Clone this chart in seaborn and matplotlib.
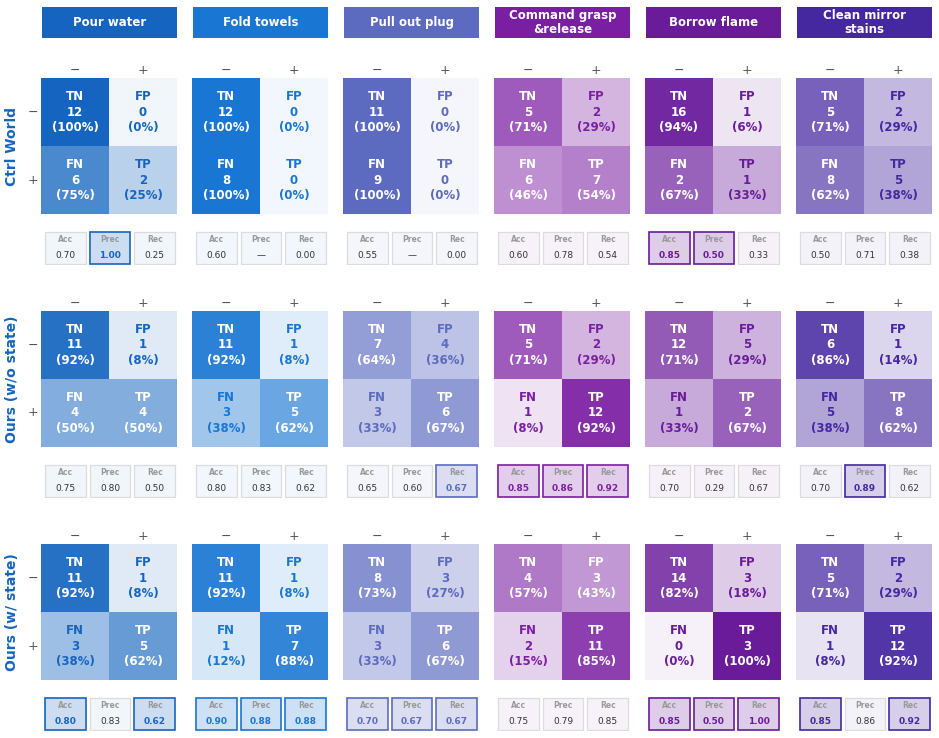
import numpy as np
import seaborn as sns
import matplotlib.pyplot as plt
from matplotlib.colors import LinearSegmentedColormap, to_rgb
from matplotlib.patches import Rectangle

tasks = ["Pour water", "Fold towels", "Pull out plug",
         "Command grasp\n&release", "Borrow flame", "Clean mirror\nstains"]
task_colors = ["#1565C0", "#1976D2", "#5C6BC0", "#7B1FA2", "#6A1B9A", "#4527A0"]
methods = ["Ctrl World", "Ours (w/o state)", "Ours (w/ state)"]

# counts per task: TN, FP, FN, TP
ctrl_world = [[12, 0, 6, 2], [12, 0, 8, 0], [11, 0, 9, 0],
              [5, 2, 6, 7], [16, 1, 2, 1], [5, 2, 8, 5]]
ours_no_state = [[11, 1, 4, 4], [11, 1, 3, 5], [7, 4, 3, 6],
                 [5, 2, 1, 12], [12, 5, 1, 2], [6, 1, 5, 8]]
ours_state = [[11, 1, 3, 5], [11, 1, 1, 7], [8, 3, 3, 6],
              [4, 3, 2, 11], [14, 3, 0, 3], [5, 2, 1, 12]]
all_counts = [ctrl_world, ours_no_state, ours_state]

cell_names = [["TN", "FP"], ["FN", "TP"]]
metric_names = ["Acc", "Prec", "Rec"]


def metrics(c):
    tn, fp, fn, tp = c
    acc = (tn + tp) / (tn + fp + fn + tp)
    prec = tp / (tp + fp) if (tp + fp) > 0 else None
    rec = tp / (tp + fn) if (tp + fn) > 0 else None
    return [acc, prec, rec]


def mix(color, t):
    rgb = np.array(to_rgb(color))
    return tuple(1 - t * (1 - rgb))


W, H = 939, 738
fig = plt.figure(figsize=(W / 100, H / 100), dpi=100)


def px_axes(left, top, w, h):
    return fig.add_axes([left / W, 1 - (top + h) / H, w / W, h / H])


# metrics table, best value per task gets highlighted
all_metrics = [[metrics(c) for c in rows] for rows in all_counts]

for c, (task, col) in enumerate(zip(tasks, task_colors)):
    x0 = 41 + 151 * c
    # title box
    tax = px_axes(x0 + 1, 7, 135, 31)
    tax.set_facecolor(col)
    tax.set_xticks([])
    tax.set_yticks([])
    for s in tax.spines.values():
        s.set_visible(False)
    tax.text(0.5, 0.5, task, ha="center", va="center", color="white",
             fontsize=8.5, fontweight="bold", linespacing=1.1,
             transform=tax.transAxes)

    cmap = LinearSegmentedColormap.from_list("t%d" % c, [mix(col, 0.06), col])

    for r in range(3):
        tn, fp, fn, tp = all_counts[r][c]
        counts = np.array([[tn, fp], [fn, tp]])
        pct = counts / counts.sum(axis=1, keepdims=True)

        ax = px_axes(x0, 78 + 233 * r, 136, 136)
        sns.heatmap(pct, ax=ax, cmap=cmap, vmin=0, vmax=1, cbar=False,
                    xticklabels=["\u2212", "+"],
                    yticklabels=["\u2212", "+"] if c == 0 else False,
                    linewidths=0)
        ax.xaxis.tick_top()
        ax.tick_params(axis="x", length=0, labelsize=9, labelcolor="#555555", pad=1)
        ax.tick_params(axis="y", length=0, labelsize=9, labelcolor="#555555",
                       rotation=0, pad=2)
        for i in range(2):
            for j in range(2):
                tc = "white" if pct[i, j] > 0.42 else col
                lines = [cell_names[i][j], str(counts[i, j]),
                         "(%d%%)" % round(pct[i, j] * 100)]
                for k, s in enumerate(lines):
                    ax.text(j + 0.5, i + 0.5 + (k - 1) * 0.235, s,
                            ha="center", va="center", color=tc,
                            fontsize=8.5, fontweight="bold")

        # metric boxes
        mx = px_axes(x0 + 2, 231 + 233 * r, 134, 34)
        mx.set_xlim(0, 3)
        mx.set_ylim(0, 1)
        mx.axis("off")
        vals = all_metrics[r][c]
        for k, v in enumerate(vals):
            others = [all_metrics[q][c][k] for q in range(3)
                      if all_metrics[q][c][k] is not None]
            best = v is not None and np.isclose(v, max(others))
            face = mix(col, 0.22) if best else mix(col, 0.06)
            edge = col if best else "#DCDCE0"
            mx.add_patch(Rectangle((k + 0.045, 0.02), 0.91, 0.96,
                                   facecolor=face, edgecolor=edge,
                                   lw=1.2 if best else 0.9))
            mx.text(k + 0.5, 0.75, metric_names[k], ha="center", va="center",
                    fontsize=5.5, color="#999999", fontweight="bold")
            txt = "\u2014" if v is None else "%.2f" % v
            mx.text(k + 0.5, 0.28, txt, ha="center", va="center",
                    fontsize=6.5, color=col if best else "#333333",
                    fontweight="bold" if best else "normal")

for r, m in enumerate(methods):
    fig.text(12 / W, 1 - (146 + 233 * r) / H, m, rotation=90, ha="center",
             va="center", fontsize=10, fontweight="bold", color="#1565C0")

fig.savefig("out.png", dpi=100)
